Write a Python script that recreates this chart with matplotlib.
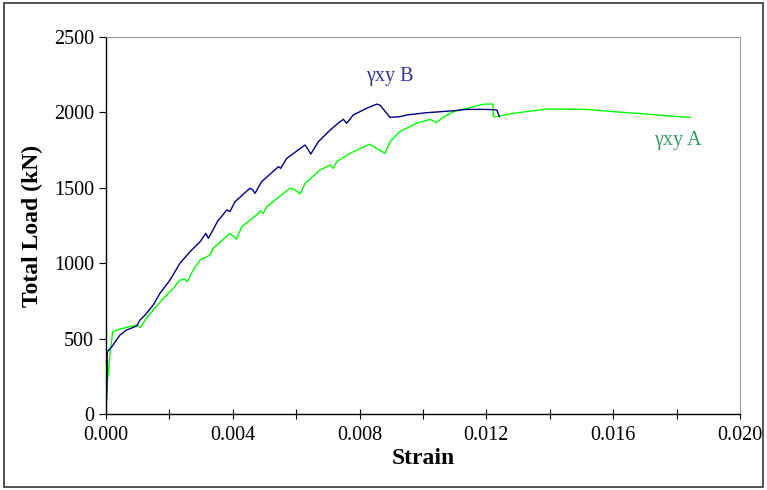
import numpy as np
import matplotlib.pyplot as plt
from matplotlib.patches import Rectangle
from matplotlib.ticker import MultipleLocator

# Curva gamma_xy B (azul)
strain_b = [0.0, 0.00003, 0.00004, 0.00018, 0.00044, 0.00065, 0.00097, 0.00107, 0.00123,
            0.00149, 0.0017, 0.00202, 0.00233, 0.00265, 0.00297, 0.00315, 0.00323, 0.00354,
            0.0036, 0.00381, 0.00391, 0.00407, 0.00454, 0.00463, 0.0047, 0.00491, 0.00544,
            0.00551, 0.0057, 0.00628, 0.00635, 0.00646, 0.0067, 0.00707, 0.00738, 0.00749,
            0.00759, 0.0078, 0.00822, 0.00854, 0.00864, 0.00896, 0.00927, 0.00949, 0.01012,
            0.01096, 0.01138, 0.01201, 0.01233, 0.01241]
load_b = [0, 200, 413, 446, 524, 557, 584, 623, 656,
          723, 800, 889, 999, 1076, 1143, 1198, 1165, 1286,
          1298, 1353, 1342, 1408, 1497, 1486, 1463, 1541, 1640,
          1629, 1695, 1784, 1762, 1724, 1806, 1883, 1938, 1954,
          1928, 1983, 2027, 2055, 2049, 1967, 1972, 1983, 1998,
          2011, 2020, 2020, 2016, 1972]

# Curva gamma_xy A (verde)
strain_a = [0.0, 0.00002, 0.00004, 0.00013, 0.00021, 0.00044, 0.00097, 0.00109, 0.00123,
            0.00149, 0.00181, 0.00212, 0.00233, 0.00249, 0.00256, 0.00275, 0.00297, 0.00328,
            0.00338, 0.00391, 0.00412, 0.00428, 0.00475, 0.00486, 0.00496, 0.00507, 0.0058,
            0.00596, 0.00612, 0.00628, 0.00675, 0.00707, 0.00717, 0.00728, 0.0077, 0.00831,
            0.0088, 0.00896, 0.00927, 0.0098, 0.01022, 0.01043, 0.01059, 0.01096, 0.01159,
            0.0119, 0.0122, 0.01222, 0.01238, 0.01243, 0.01285, 0.01348, 0.0139, 0.01516,
            0.016, 0.01674, 0.01769, 0.01842]
load_a = [0, 120, 205, 404, 546, 564, 590, 575, 623,
          690, 767, 834, 889, 893, 877, 955, 1021, 1054,
          1099, 1198, 1160, 1242, 1320, 1346, 1331, 1375, 1497,
          1486, 1459, 1530, 1618, 1651, 1629, 1674, 1729, 1789,
          1729, 1806, 1873, 1928, 1954, 1932, 1961, 2005, 2038,
          2054, 2056, 1972, 1972, 1976, 1994, 2011, 2022, 2020,
          2005, 1994, 1978, 1967]

plt.rcParams['font.family'] = ['Liberation Serif', 'DejaVu Serif']

fig = plt.figure(figsize=(7.67, 4.90), dpi=100)
ax = fig.add_axes([0.1382, 0.155, 0.8266, 0.7695])

ax.plot(strain_a, load_a, color='#00ff00', linewidth=1.0)
ax.plot(strain_b, load_b, color='#000080', linewidth=1.0)

ax.set_xlim(0, 0.020)
ax.set_ylim(0, 2500)
ax.xaxis.set_major_locator(MultipleLocator(0.004))
ax.xaxis.set_minor_locator(MultipleLocator(0.002))
ax.yaxis.set_major_locator(MultipleLocator(500))
ax.xaxis.set_major_formatter(plt.FuncFormatter(lambda v, p: f'{v:.3f}'))

ax.tick_params(axis='x', which='both', direction='inout', length=7, width=0.8, labelsize=14.5, pad=5)
ax.tick_params(axis='y', which='major', direction='out', length=5, width=0.8, labelsize=14.5)

ax.spines['top'].set_color('#999999')
ax.spines['right'].set_color('#999999')
for s in ['left', 'bottom']:
    ax.spines[s].set_color('black')
    ax.spines[s].set_linewidth(1.0)

ax.set_xlabel('Strain', fontsize=17, fontweight='bold', labelpad=2)
ax.set_ylabel('Total Load (kN)', fontsize=17, fontweight='bold', labelpad=8)

ax.text(0.00896, 2235, 'γxy B', color='#333399', fontsize=14.5, ha='center', va='center')
ax.text(0.01804, 1817, 'γxy A', color='#339966', fontsize=14.5, ha='center', va='center')

# marco exterior
fig.patches.append(Rectangle((0.005, 0.006), 0.99, 0.988, transform=fig.transFigure,
                             fill=False, edgecolor='#333333', linewidth=1.2))

fig.savefig('out.png', dpi=100)
